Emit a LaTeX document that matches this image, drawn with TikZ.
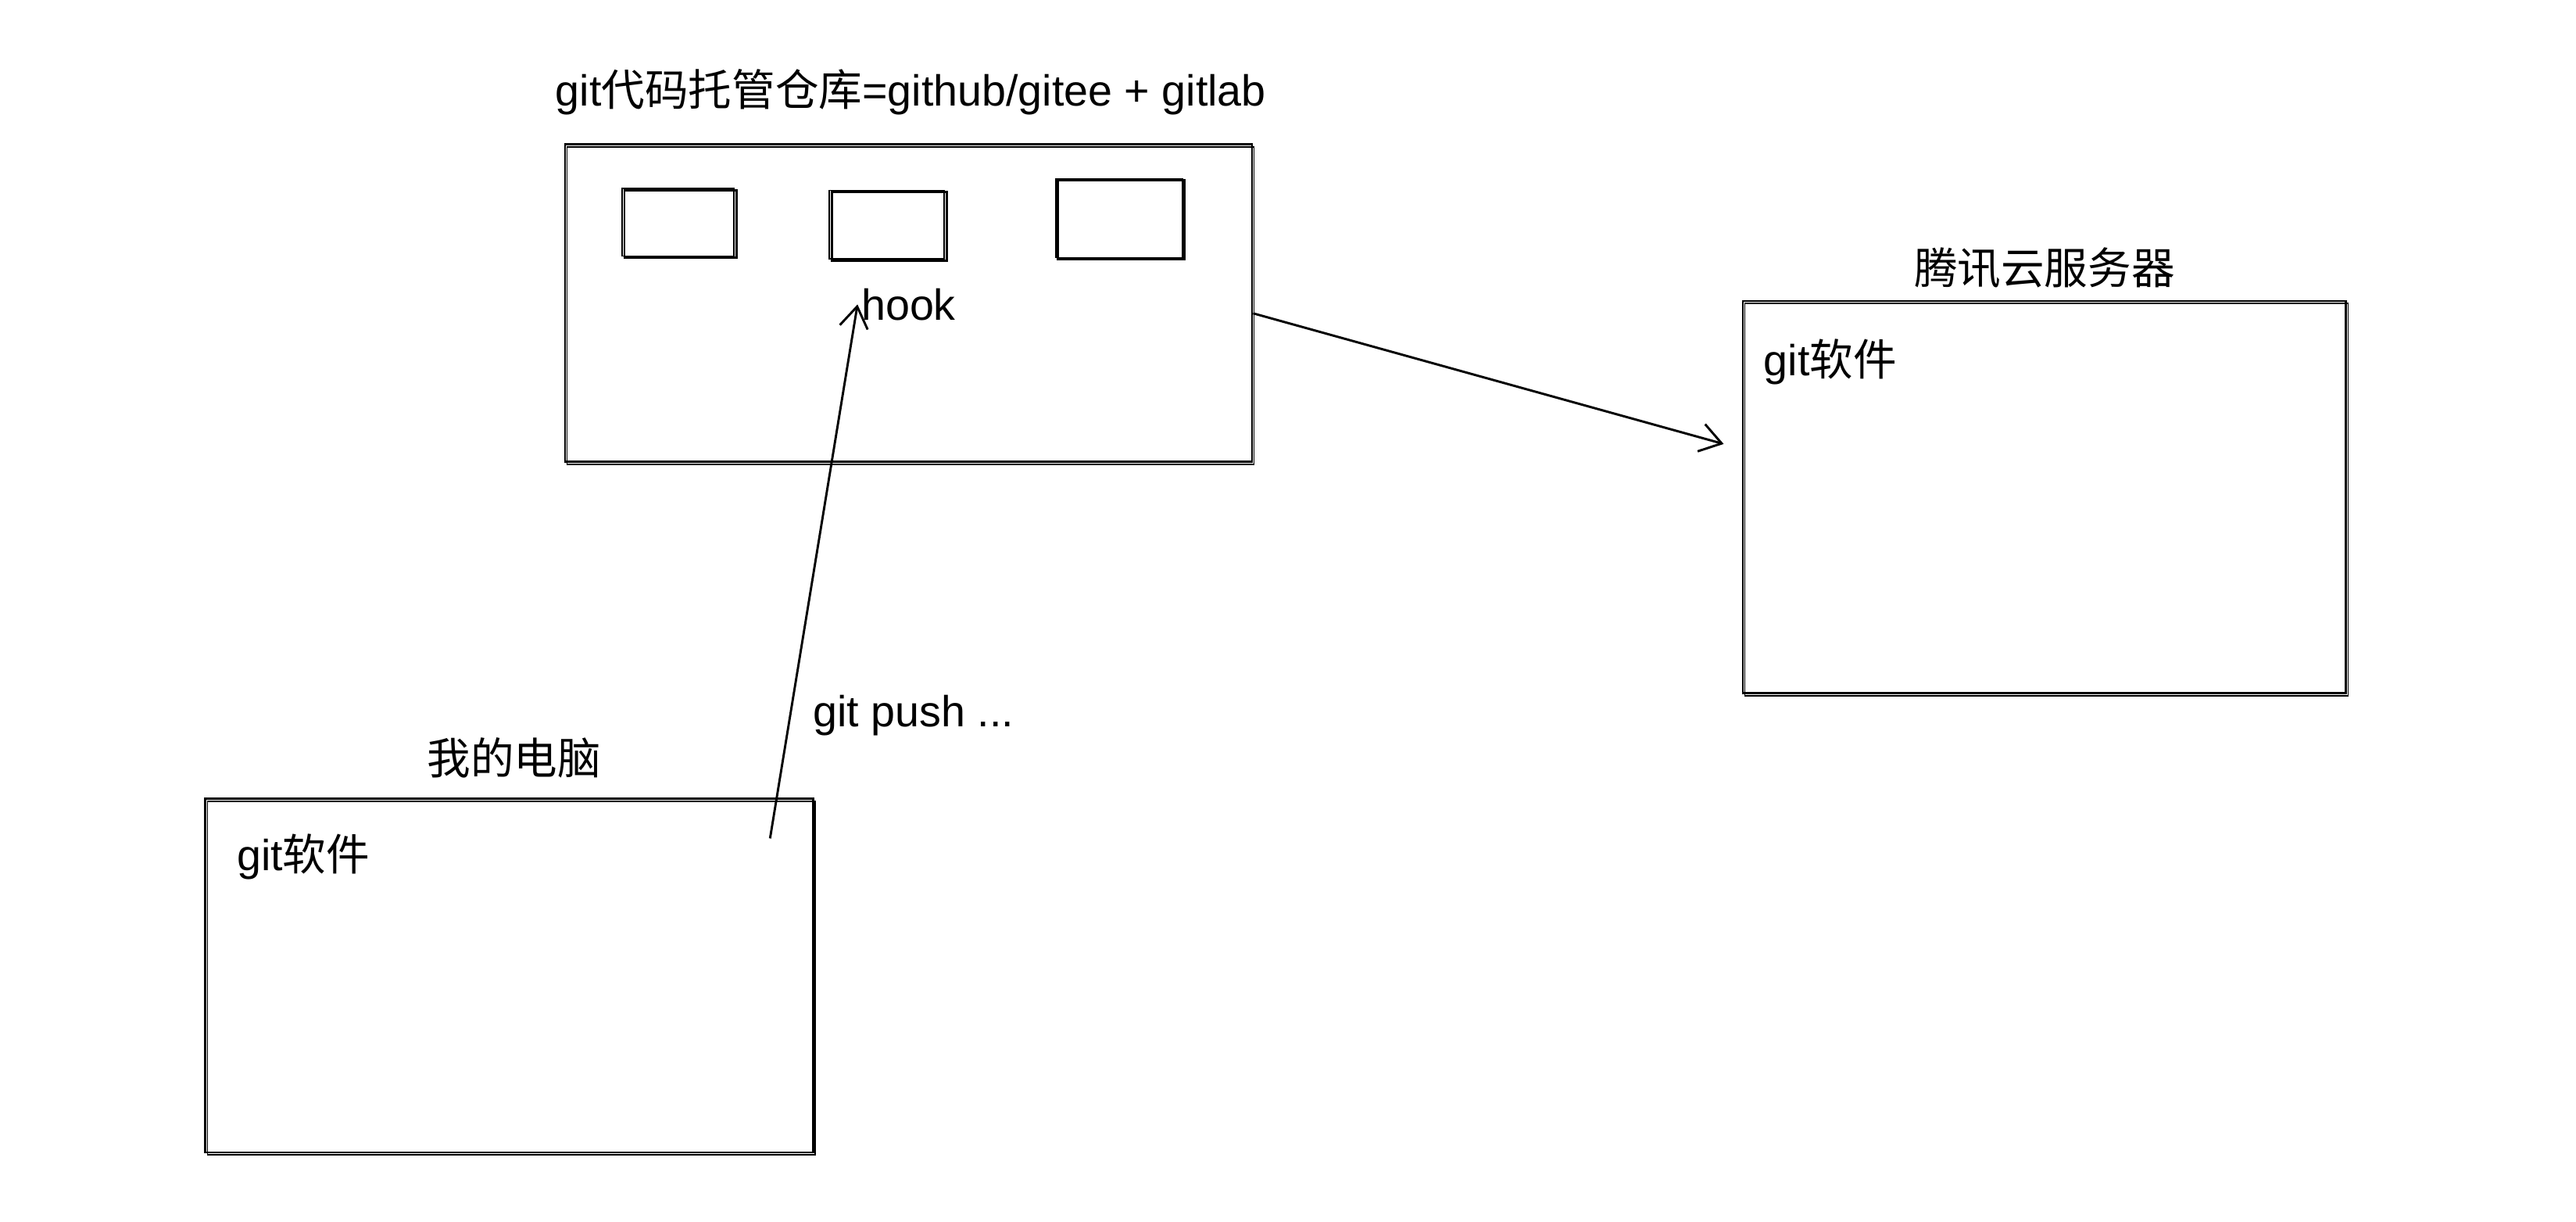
\documentclass[tikz,border=0pt]{standalone}
\usepackage{fontspec}
\setmainfont{Liberation Sans}
\newfontfamily\cjk{Noto Sans CJK SC}
\usetikzlibrary{arrows.meta, calc}
\tikzstyle{machine}   = [rectangle,
                         draw=black,
                         line width=0.7pt,
                         postaction={draw, line width=0.4pt,
                                     transform canvas={shift={(0.6pt,-0.7pt)}}}]
\tikzstyle{repoBox}   = [rectangle,
                         draw=black,
                         line width=0.7pt,
                         postaction={draw, line width=0.4pt,
                                     transform canvas={shift={(-0.7pt,0.6pt)}}}]
\tikzstyle{textLabel} = [font=\fontsize{13.4}{16}\selectfont]
\tikzstyle{arrow}     = [line width=0.7pt, ->, >={Straight Barb[length=0.09in, width=0.12in]}]

\begin{document}
\begin{tikzpicture}
        \useasboundingbox (0,0) rectangle (10.987in,-5.207in);

        \node [machine, minimum width=2.93in, minimum height=1.353in] (Repo) at (3.875in,-1.293in) {};
        \node [machine, minimum width=2.573in, minimum height=1.673in] (Server) at ([shift={(4.845in,-0.827in)}] Repo) {};
        \node [machine, minimum width=2.593in, minimum height=1.507in] (PC) at ([shift={(-1.702in,-2.867in)}] Repo) {};

        \node [repoBox, minimum width=0.477in, minimum height=0.287in] (RepoA) at ([shift={(-0.973in,0.337in)}] Repo) {};
        \node [repoBox, minimum width=0.49in, minimum height=0.293in] (RepoB) at ([shift={(-0.083in,0.327in)}] Repo) {};
        \node [repoBox, minimum width=0.54in, minimum height=0.337in] (RepoC) at ([shift={(0.908in,0.355in)}] Repo) {};

        \node [textLabel, inner sep=1pt] (hook) at ([shift={(0in,-0.005in)}] Repo) {hook};

        \node [textLabel] (RepoTitle) at ([shift={(0.01in,0.22in)}] Repo.north) {git{\cjk 代码托管仓库}=github/gitee + gitlab};
        \node [textLabel] (ServerTitle) at ([shift={(0in,0.135in)}] Server.north) {\cjk 腾讯云服务器};
        \node [textLabel] (PCTitle) at ([shift={(0.02in,0.17in)}] PC.north) {\cjk 我的电脑};

        \node [textLabel, anchor=west] (ServerGit) at ([shift={(0.045in,-0.265in)}] Server.north west) {git{\cjk 软件}};
        \node [textLabel, anchor=west] (PCGit) at ([shift={(0.09in,-0.25in)}] PC.north west) {git{\cjk 软件}};
        \node [textLabel, anchor=west] (push) at ([shift={(-0.055in,0.35in)}] PC.north east) {git push ...};

        \coordinate (pushStart) at ([shift={(-0.19in,-0.173in)}] PC.north east);
        \coordinate (syncStart) at ([shift={(0in,-0.043in)}] Repo.east);
        \coordinate (syncEnd)   at ([shift={(-0.077in,0.227in)}] Server.west);

        \draw [arrow] (pushStart) -- (hook.west);
        \draw [arrow] (syncStart) -- (syncEnd);

    \end{tikzpicture}
\end{document}
